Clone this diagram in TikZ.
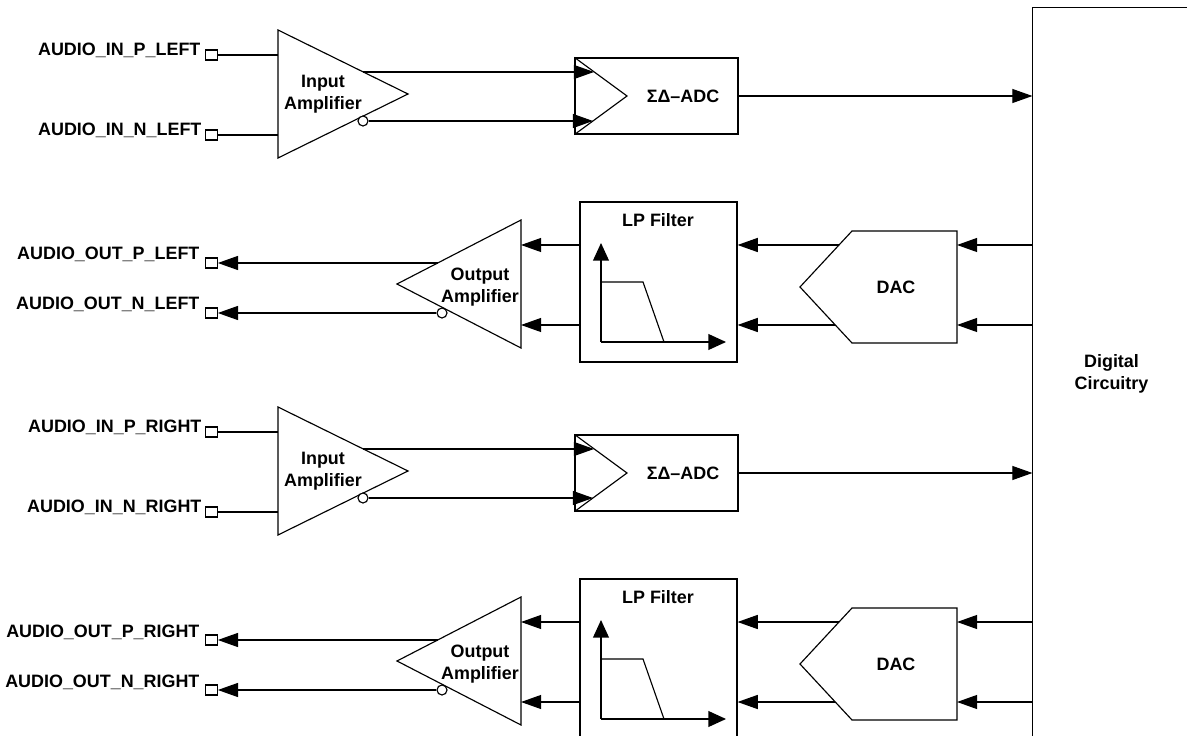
\documentclass[tikz,border=0pt]{standalone}
\usepackage{fontspec}
\setmainfont{Liberation Sans}
\usetikzlibrary{arrows.meta}
\tikzstyle{blk}=[draw, inner sep=0pt]
\tikzstyle{pad}=[draw, minimum width=.23cm, minimum height=.2cm, inner sep=0pt]
\tikzstyle{lbl}=[inner sep=0pt, anchor=base east]
\tikzstyle{bubble}=[draw, circle, minimum size=.2cm, inner sep=0pt, fill=white]
\tikzstyle{sig}=[-{Triangle[length=11.5pt,width=8pt]}]
\tikzstyle{axarr}=[-{Triangle[length=10pt,width=9pt]}]

\begin{document}
\begin{tikzpicture}[x=.02cm, y=-.02cm, line width=.65pt, font=\bfseries\fontsize{10.2}{12.5}\selectfont]
  \useasboundingbox (0,0) rectangle (1187,736);

  %% Digital block
  \draw (1111.5,374) node[minimum width=3.14cm, minimum height=14.64cm, align=center] (dig) {Digital\\Circuitry};
  \draw (dig.north east) -- (dig.north west) -- (dig.south west);

  %% Left input
  \draw (211.5,55) node[pad] (inPL) {};
  \draw (201,56) node[lbl] (tInPL) {AUDIO\_IN\_P\_LEFT};
  \draw (211.5,135) node[pad] (inNL) {};
  \draw (202,136) node[lbl] (tInNL) {AUDIO\_IN\_N\_LEFT};

  \coordinate (iampL) at (278,94);
  \draw (iampL) ++(0,-64) -- ++(130,64) -- ++(-130,64) -- cycle;
  \draw (323,94) node[align=center] (tiampL) {Input\\Amplifier};
  \draw (inPL.east) -- (inPL -| iampL);
  \draw (inNL.east) -- (inNL -| iampL);
  \coordinate (iampLp) at (363,72);
  \draw (363,121) node[bubble] (bubL) {};

  \draw (656.5,96) node[blk, minimum width=3.26cm, minimum height=1.52cm] (adcL) {};
  \draw (adcL.north west) -- (627,96) -- (adcL.south west);
  \draw (683,96) node (tadcL) {ΣΔ–ADC};
  \coordinate (adcLp) at (594,72);
  \coordinate (adcLn) at (593,121);
  \draw[sig] (iampLp) -- (adcLp);
  \draw[sig] (bubL.east) -- (adcLn);
  \draw[sig] (adcL.east) -- (adcL.east -| dig.west);

  %% Left output
  \draw (211.5,263) node[pad] (outPL) {};
  \draw (200,260) node[lbl] (tOutPL) {AUDIO\_OUT\_P\_LEFT};
  \draw (211.5,313) node[pad] (outNL) {};
  \draw (200,310) node[lbl] (tOutNL) {AUDIO\_OUT\_N\_LEFT};

  \coordinate (oampL) at (521,284);
  \draw (oampL) ++(0,-64) -- ++(-124,64) -- ++(124,64) -- cycle;
  \draw (480,287) node[align=center] (toampL) {Output\\Amplifier};
  \coordinate (oampLp) at (438,263);
  \draw (442,313) node[bubble] (bubOL) {};
  \draw[sig] (oampLp) -- (outPL.east);
  \draw[sig] (bubOL.west) -- (outNL.east);

  \draw (658.5,282) node[blk, minimum width=3.14cm, minimum height=3.2cm] (lpL) {};
  \draw (658,220) node (tlpL) {LP Filter};
  \coordinate (lpoL) at (601,342);
  \draw[axarr] (lpoL) -- ++(0,-99);
  \draw[axarr] (lpoL) -- ++(125,0);
  \draw (lpoL) ++(0,-60) -- ++(42,0) -- ++(21,60);

  \draw (957,231) -- (852,231) -- (800,287) -- (852,343) -- (957,343) -- cycle;
  \draw (896,287) node (tdacL) {DAC};
  \coordinate (dacLp) at (957,245);
  \coordinate (dacLn) at (957,325);
  \coordinate (dacLpi) at (839,245);
  \coordinate (dacLni) at (835,325);
  \draw[sig] (dacLp -| dig.west) -- (dacLp);
  \draw[sig] (dacLn -| dig.west) -- (dacLn);
  \draw[sig] (dacLpi) -- (lpL.east |- dacLpi);
  \draw[sig] (dacLni) -- (lpL.east |- dacLni);
  \draw[sig] (lpL.west |- dacLp) -- (oampL |- dacLp);
  \draw[sig] (lpL.west |- dacLn) -- (oampL |- dacLn);

  %% Right input
  \draw (211.5,432) node[pad] (inPR) {};
  \draw (202,433) node[lbl] (tInPR) {AUDIO\_IN\_P\_RIGHT};
  \draw (211.5,512) node[pad] (inNR) {};
  \draw (202,513) node[lbl] (tInNR) {AUDIO\_IN\_N\_RIGHT};

  \coordinate (iampR) at (278,471);
  \draw (iampR) ++(0,-64) -- ++(130,64) -- ++(-130,64) -- cycle;
  \draw (323,471) node[align=center] (tiampR) {Input\\Amplifier};
  \draw (inPR.east) -- (inPR -| iampR);
  \draw (inNR.east) -- (inNR -| iampR);
  \coordinate (iampRp) at (363,449);
  \draw (363,498) node[bubble] (bubR) {};

  \draw (656.5,473) node[blk, minimum width=3.26cm, minimum height=1.52cm] (adcR) {};
  \draw (adcR.north west) -- (627,473) -- (adcR.south west);
  \draw (683,473) node (tadcR) {ΣΔ–ADC};
  \coordinate (adcRp) at (594,449);
  \coordinate (adcRn) at (593,498);
  \draw[sig] (iampRp) -- (adcRp);
  \draw[sig] (bubR.east) -- (adcRn);
  \draw[sig] (adcR.east) -- (adcR.east -| dig.west);

  %% Right output
  \draw (211.5,640) node[pad] (outPR) {};
  \draw (200,637) node[lbl] (tOutPR) {AUDIO\_OUT\_P\_RIGHT};
  \draw (211.5,690) node[pad] (outNR) {};
  \draw (200,687) node[lbl] (tOutNR) {AUDIO\_OUT\_N\_RIGHT};

  \coordinate (oampR) at (521,661);
  \draw (oampR) ++(0,-64) -- ++(-124,64) -- ++(124,64) -- cycle;
  \draw (480,664) node[align=center] (toampR) {Output\\Amplifier};
  \coordinate (oampRp) at (438,640);
  \draw (442,690) node[bubble] (bubOR) {};
  \draw[sig] (oampRp) -- (outPR.east);
  \draw[sig] (bubOR.west) -- (outNR.east);

  \draw (658.5,659) node[blk, minimum width=3.14cm, minimum height=3.2cm] (lpR) {};
  \draw (658,597) node (tlpR) {LP Filter};
  \coordinate (lpoR) at (601,719);
  \draw[axarr] (lpoR) -- ++(0,-99);
  \draw[axarr] (lpoR) -- ++(125,0);
  \draw (lpoR) ++(0,-60) -- ++(42,0) -- ++(21,60);

  \draw (957,608) -- (852,608) -- (800,664) -- (852,720) -- (957,720) -- cycle;
  \draw (896,664) node (tdacR) {DAC};
  \coordinate (dacRp) at (957,622);
  \coordinate (dacRn) at (957,702);
  \coordinate (dacRpi) at (839,622);
  \coordinate (dacRni) at (835,702);
  \draw[sig] (dacRp -| dig.west) -- (dacRp);
  \draw[sig] (dacRn -| dig.west) -- (dacRn);
  \draw[sig] (dacRpi) -- (lpR.east |- dacRpi);
  \draw[sig] (dacRni) -- (lpR.east |- dacRni);
  \draw[sig] (lpR.west |- dacRp) -- (oampR |- dacRp);
  \draw[sig] (lpR.west |- dacRn) -- (oampR |- dacRn);
\end{tikzpicture}
\end{document}
